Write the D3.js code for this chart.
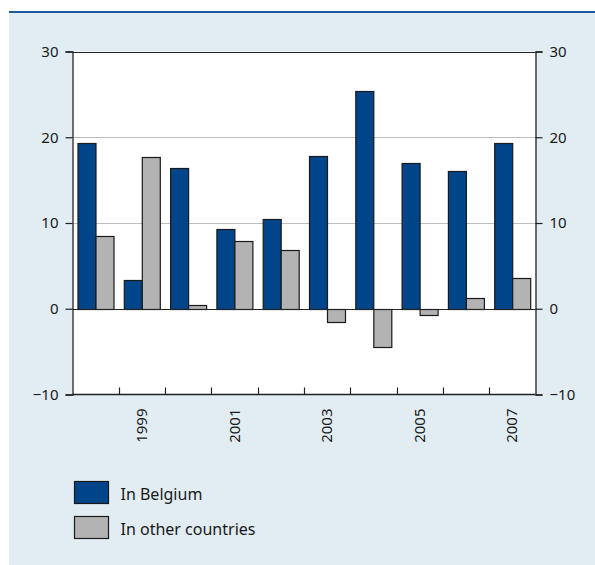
<!DOCTYPE html>
<html>
<head>
<meta charset="utf-8">
<script src="https://cdn.jsdelivr.net/npm/d3@7/dist/d3.min.js"></script>
<style>
  html, body { margin: 0; padding: 0; background: #ffffff; }
  svg { display: block; }
  text { font-family: "Noto Sans", "Open Sans", sans-serif; fill: #1a1a1a; }
</style>
</head>
<body>
<svg id="chart" width="595" height="565"></svg>
<script>
// Annual values, per cent
const years = ["1998", "1999", "2000", "2001", "2002", "2003", "2004", "2005", "2006", "2007"];
const inBelgium = [19.3, 3.3, 16.4, 9.3, 10.5, 17.8, 25.4, 17.0, 16.1, 19.3];
const inOtherCountries = [8.5, 17.7, 0.4, 7.9, 6.9, -1.5, -4.5, -0.7, 1.2, 3.6];
const seriesNames = ["In Belgium", "In other countries"];
const seriesColors = ["#00448a", "#b3b3b3"];
const yTicks = [-10, 0, 10, 20, 30];
const labelledYears = ["1999", "2001", "2003", "2005", "2007"];

const svg = d3.select("#chart");

// panel background and top rule
svg.append("rect").attr("x", 9).attr("y", 12).attr("width", 586).attr("height", 553).attr("fill", "#e1ecf3");
svg.append("line").attr("x1", 9).attr("x2", 595).attr("y1", 12).attr("y2", 12)
  .attr("stroke", "#1d5a99").attr("stroke-width", 2);

const plotLeft = 72.5, plotRight = 535.5, plotTop = 51.5, plotBottom = 394.5;

const x = d3.scaleBand().domain(years).range([plotLeft, plotRight]).paddingInner(0).paddingOuter(0);
const x1 = d3.scaleBand().domain(seriesNames).range([0, x.bandwidth()]).paddingInner(0).paddingOuter(0.28);
const y = d3.scaleLinear().domain([-10, 30]).range([plotBottom, plotTop]);

// plot area
svg.append("rect").attr("x", plotLeft).attr("y", plotTop).attr("width", plotRight - plotLeft).attr("height", plotBottom - plotTop).attr("fill", "#ffffff");

// gridlines
svg.append("g").selectAll("line").data([10, 20]).join("line")
  .attr("x1", plotLeft).attr("x2", plotRight)
  .attr("y1", d => Math.round(y(d)) + 0.5).attr("y2", d => Math.round(y(d)) + 0.5)
  .attr("stroke", "#bdbdbd").attr("stroke-width", 1);

// bars
const rows = years.map((yr, i) => ({ year: yr, values: [inBelgium[i], inOtherCountries[i]] }));
const groups = svg.append("g").selectAll("g").data(rows).join("g")
  .attr("transform", d => `translate(${x(d.year)},0)`);
groups.selectAll("rect").data(d => d.values.map((v, j) => ({ v, name: seriesNames[j], j }))).join("rect")
  .attr("x", d => Math.round(x1(d.name)) + 0.5)
  .attr("width", Math.round(x1.bandwidth()))
  .attr("y", d => Math.round(y(Math.max(0, d.v))) + 0.5)
  .attr("height", d => Math.abs(Math.round(y(d.v)) - Math.round(y(0))))
  .attr("fill", d => seriesColors[d.j])
  .attr("stroke", "#1a1a1a").attr("stroke-width", 1.2);

// zero line and top line
svg.append("line").attr("x1", plotLeft).attr("x2", plotRight).attr("y1", Math.round(y(0)) + 0.5).attr("y2", Math.round(y(0)) + 0.5)
  .attr("stroke", "#222").attr("stroke-width", 1.2);
svg.append("line").attr("x1", plotLeft).attr("x2", plotRight).attr("y1", Math.round(y(30)) + 0.5).attr("y2", Math.round(y(30)) + 0.5)
  .attr("stroke", "#222").attr("stroke-width", 1.2);

// y axes on both sides
const fmt = d => d < 0 ? "\u2212" + Math.abs(d) : d;
const yAxisL = d3.axisLeft(y).tickValues(yTicks).tickSize(7).tickPadding(7).tickFormat(fmt);
const yAxisR = d3.axisRight(y).tickValues(yTicks).tickSize(7).tickPadding(7).tickFormat(fmt);
const gL = svg.append("g").attr("transform", `translate(${plotLeft},0)`).call(yAxisL);
const gR = svg.append("g").attr("transform", `translate(${plotRight},0)`).call(yAxisR);
[gL, gR].forEach(g => {
  g.select(".domain").attr("stroke", "#222").attr("stroke-width", 1.3);
  g.selectAll(".tick line").attr("stroke", "#222").attr("stroke-width", 1.2);
  g.selectAll(".tick text").attr("font-size", 15).attr("fill", "#1a1a1a").attr("font-family", "Noto Sans, sans-serif");
});

// x axis: baseline, boundary ticks, rotated year labels
svg.append("line").attr("x1", plotLeft).attr("x2", plotRight).attr("y1", plotBottom).attr("y2", plotBottom)
  .attr("stroke", "#222").attr("stroke-width", 1.3);
svg.append("g").selectAll("line").data(years.slice(1)).join("line")
  .attr("x1", d => Math.round(x(d)) + 0.5).attr("x2", d => Math.round(x(d)) + 0.5)
  .attr("y1", plotBottom).attr("y2", plotBottom - 7)
  .attr("stroke", "#222").attr("stroke-width", 1.2);
svg.append("g").selectAll("text").data(labelledYears).join("text")
  .attr("transform", d => `translate(${x(d) + x.bandwidth() / 2 + 5},${plotBottom + 14}) rotate(-90)`)
  .attr("text-anchor", "end")
  .attr("font-size", 15)
  .text(d => d);

// legend
const legend = svg.append("g").selectAll("g").data(seriesNames).join("g")
  .attr("transform", (d, i) => `translate(74.5,${481.5 + i * 35})`);
legend.append("rect").attr("width", 34).attr("height", 22)
  .attr("fill", (d, i) => seriesColors[i]).attr("stroke", "#1a1a1a").attr("stroke-width", 1.2);
legend.append("text").attr("x", 46).attr("y", 18).attr("font-size", 16).text(d => d);
</script>
</body>
</html>
